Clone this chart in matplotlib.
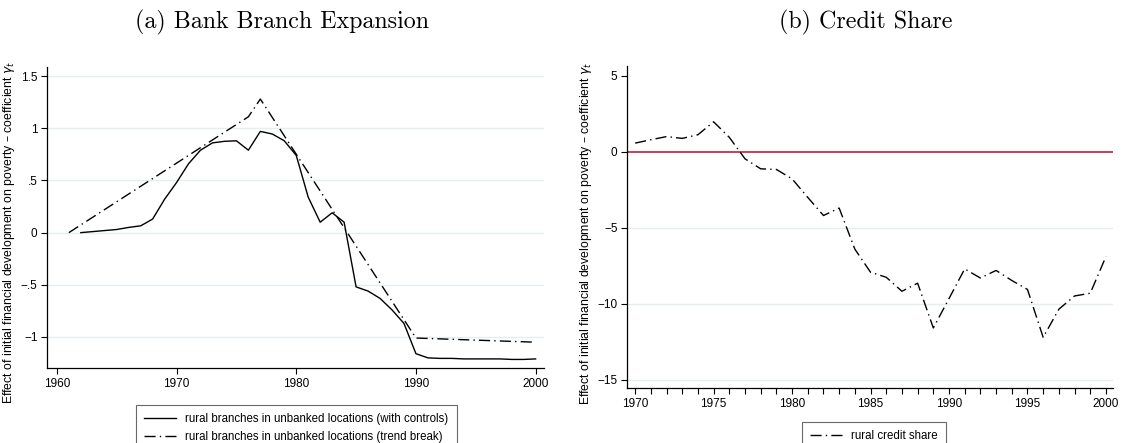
import matplotlib
matplotlib.use('Agg')
import matplotlib.pyplot as plt

plt.rcParams['font.family'] = ['Liberation Sans', 'DejaVu Sans']
plt.rcParams['axes.unicode_minus'] = True

# (a) bank branch expansion
anios_ctrl = list(range(1962, 2001))
ctrl = [0.00, 0.01, 0.02, 0.03, 0.05, 0.065, 0.13, 0.32, 0.48, 0.66,
        0.79, 0.86, 0.875, 0.88, 0.79, 0.97, 0.945, 0.88, 0.74, 0.34,
        0.10, 0.19, 0.10, -0.52, -0.56, -0.63, -0.74, -0.87, -1.16, -1.20,
        -1.205, -1.205, -1.21, -1.21, -1.21, -1.21, -1.215, -1.215, -1.21]
anios_tb = [1961, 1976, 1977, 1990, 1995, 2000]
trend_break = [0.0, 1.11, 1.28, -1.01, -1.03, -1.05]

# (b) credit share
anios_cred = list(range(1970, 2001))
credito = [0.57, 0.79, 1.0, 0.88, 1.12, 1.97, 0.95, -0.46, -1.12, -1.16,
           -1.78, -3.0, -4.19, -3.7, -6.4, -7.92, -8.25, -9.17, -8.64, -11.58,
           -9.65, -7.7, -8.3, -7.8, -8.46, -9.05, -12.2, -10.35, -9.48, -9.3,
           -6.89]

ylabel = 'Effect of initial financial development on poverty – coefficient $\\gamma_t$'
grid_col = '#e4edf0'
dash_dot = (0, (8, 3, 1, 3))

fig = plt.figure(figsize=(11.29, 4.43), dpi=100)
W, H = 1129, 443
ax1 = fig.add_axes([47.3 / W, 1 - 368.3 / H, (544 - 47.3) / W, (368.3 - 66.7) / H])
ax2 = fig.add_axes([627.3 / W, 1 - 388.3 / H, (1113 - 627.3) / W, (388.3 - 66) / H])

for ax in (ax1, ax2):
    for s in ('top', 'right'):
        ax.spines[s].set_visible(False)
    ax.spines['left'].set_linewidth(0.9)
    ax.spines['bottom'].set_linewidth(0.9)
    ax.tick_params(direction='out', length=4, width=0.8, labelsize=8.5, pad=3)
    ax.set_axisbelow(True)

# panel a
ax1.plot(anios_ctrl, ctrl, color='black', lw=1.0,
         label='rural branches in unbanked locations (with controls)')
ax1.plot(anios_tb, trend_break, color='black', lw=1.0, linestyle=dash_dot,
         label='rural branches in unbanked locations (trend break)')
ax1.set_xlim(1959.2, 2000.7)
ax1.set_ylim(-1.30, 1.59)
ax1.set_xticks([1960, 1970, 1980, 1990, 2000])
yt = [-1, -0.5, 0, 0.5, 1, 1.5]
ax1.set_yticks(yt)
ax1.set_yticklabels(['−1', '−.5', '0', '.5', '1', '1.5'])
ax1.grid(axis='y', color=grid_col, lw=1.0)
ax1.set_ylabel(ylabel, fontsize=8.8)
ax1.yaxis.set_label_coords(-0.061, 0.452)

# panel b
ax2.axhline(0, color='#c41e3a', lw=1.2, zorder=1)
ax2.plot(anios_cred, credito, color='black', lw=1.0, linestyle=dash_dot,
         label='rural credit share', zorder=2)
ax2.set_xlim(1969.5, 2000.45)
ax2.set_ylim(-15.55, 5.64)
ax2.set_xticks(range(1970, 2001))
ax2.set_xticklabels([str(a) if a % 5 == 0 else '' for a in range(1970, 2001)])
ax2.set_yticks([-15, -10, -5, 0, 5])
ax2.set_yticklabels(['−15', '−10', '−5', '0', '5'])
for v in [-15, -10, -5]:
    ax2.axhline(v, color=grid_col, lw=1.0, zorder=0)
ax2.set_ylabel(ylabel, fontsize=8.8)
ax2.yaxis.set_label_coords(-0.0686, 0.479)

# legends (box runs off the bottom edge like the original)
leg1 = ax1.legend(loc='upper center', bbox_to_anchor=(296.3 / W, 1 - 399.3 / H),
                  bbox_transform=fig.transFigure, fontsize=8.3, frameon=True,
                  fancybox=False, edgecolor='#444444', handlelength=2.8,
                  borderpad=0.7, labelspacing=0.5)
leg1.get_frame().set_linewidth(0.8)
leg2 = ax2.legend(loc='upper center', bbox_to_anchor=(874 / W, 1 - 416 / H),
                  bbox_transform=fig.transFigure, fontsize=8.3, frameon=True,
                  fancybox=False, edgecolor='#444444', handlelength=2.8,
                  borderpad=0.7)
leg2.get_frame().set_linewidth(0.8)

# subfigure captions
fig.text(282 / W, 1 - 22 / H, '(a) Bank Branch Expansion', ha='center', va='center',
         fontsize=17.3, family='cmr10')
fig.text(866 / W, 1 - 22 / H, '(b) Credit Share', ha='center', va='center',
         fontsize=17.3, family='cmr10')

fig.savefig('out.png', dpi=100)
